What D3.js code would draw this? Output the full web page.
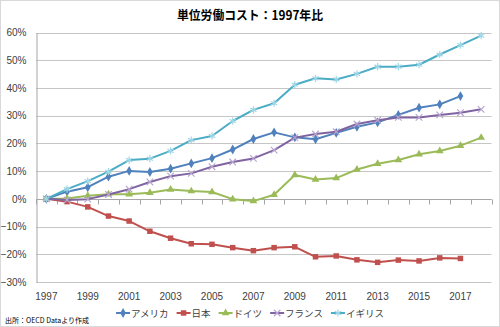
<!DOCTYPE html>
<html lang="ja">
<head>
<meta charset="utf-8">
<title>単位労働コスト</title>
<script src="https://cdnjs.cloudflare.com/ajax/libs/d3/7.8.5/d3.min.js"></script>
<style>
  body { margin: 0; background: #fff; }
  svg { display: block; }
</style>
</head>
<body>
<script>
// years on the category axis
var years = d3.range(1997, 2019);
var tickYears = d3.range(1997, 2018, 2);
var yTicks = [-0.3, -0.2, -0.1, 0, 0.1, 0.2, 0.3, 0.4, 0.5, 0.6];

// 1997 = 0 (%)
var usa = [0, 2.6, 4.2, 8.0, 10.1, 9.7, 10.9, 12.8, 14.7, 17.8, 21.6, 24.0, 22.2, 21.5, 23.8, 26.0, 27.6, 30.3, 32.9, 34.1, 37.1];
var japan = [0, -1.0, -2.9, -6.2, -8.0, -11.7, -14.2, -16.2, -16.4, -17.6, -18.7, -17.6, -17.3, -20.9, -20.6, -22.0, -22.9, -22.1, -22.4, -21.3, -21.5];
var germany = [0, 0.1, 1.1, 1.7, 1.7, 2.2, 3.4, 2.8, 2.5, -0.1, -0.8, 1.5, 8.6, 7.0, 7.5, 10.6, 12.7, 14.0, 16.1, 17.3, 19.2, 22.1];
var france = [0, -0.4, -0.1, 1.6, 3.5, 6.1, 8.2, 9.2, 11.6, 13.3, 14.6, 17.6, 22.1, 23.4, 24.2, 27.0, 28.4, 29.4, 29.4, 30.3, 31.1, 32.3];
var uk = [0, 3.5, 6.4, 9.8, 14.0, 14.5, 17.3, 21.2, 22.7, 28.1, 32.1, 34.5, 41.2, 43.5, 43.1, 45.1, 47.7, 47.7, 48.4, 52.1, 55.5, 58.9];

var series = [
  { name: "アメリカ", values: usa, color: "#4F81BD", mark: "#4F81BD", symbol: d3.symbolDiamond, size: 28, stroke: false },
  { name: "日本", values: japan, color: "#C0504D", mark: "#C0504D", symbol: d3.symbolSquare, size: 30, stroke: false },
  { name: "ドイツ", values: germany, color: "#9BBB59", mark: "#9BBB59", symbol: d3.symbolTriangle, size: 26, stroke: false },
  { name: "フランス", values: france, color: "#8064A2", mark: "#B7A6CF", symbol: d3.symbolX, size: 30, stroke: true },
  { name: "イギリス", values: uk, color: "#4BACC6", mark: "#9DD6E6", symbol: d3.symbolAsterisk, size: 36, stroke: true }
];

var width = 500, height = 327;
var numFont = "'Liberation Sans', Arial, sans-serif";
var jpFont = "'Noto Sans CJK JP', sans-serif";

var svg = d3.select("body").append("svg")
  .attr("width", width)
  .attr("height", height);

svg.append("rect")
  .attr("x", 0.5).attr("y", 0.5)
  .attr("width", width - 1).attr("height", height - 1)
  .attr("fill", "#fff")
  .attr("stroke", "#d9d9d9");

var x = d3.scaleBand().domain(years).range([36, 491.5]);
var y = d3.scaleLinear().domain([-0.3, 0.6]).range([282, 32.6]);

// title
svg.append("text")
  .attr("x", 250).attr("y", 20)
  .attr("text-anchor", "middle")
  .style("font-family", jpFont)
  .style("font-size", "12.5px")
  .style("font-weight", "bold")
  .attr("fill", "#000")
  .attr("textLength", 146)
  .attr("lengthAdjust", "spacingAndGlyphs")
  .text("単位労働コスト：1997年比");

// gridlines
svg.append("g")
  .selectAll("line")
  .data(yTicks)
  .join("line")
  .attr("x1", 36).attr("x2", 491.5)
  .attr("y1", function(d) { return Math.round(y(d)) + 0.5; })
  .attr("y2", function(d) { return Math.round(y(d)) + 0.5; })
  .attr("stroke", "#c6c6c6")
  .attr("stroke-width", 1);

// y axis
var yAxis = svg.append("g")
  .attr("transform", "translate(36.5,0)")
  .call(d3.axisLeft(y).tickValues(yTicks).tickSize(0).tickPadding(10).tickFormat(d3.format(".0%")));
yAxis.select(".domain").attr("stroke", "#a6a6a6");
yAxis.selectAll("text")
  .style("font-family", numFont)
  .style("font-size", "10px")
  .attr("fill", "#404040");

// x axis crosses at 0%
var zeroY = Math.round(y(0)) + 0.5;
var xAxis = svg.append("g")
  .attr("transform", "translate(0," + zeroY + ")");
xAxis.append("line")
  .attr("x1", 36).attr("x2", 491.5)
  .attr("stroke", "#a6a6a6");
xAxis.selectAll("line.tick")
  .data(years.concat([2019]))
  .join("line")
  .attr("class", "tick")
  .attr("x1", function(d) { return Math.round(x(d) !== undefined ? x(d) : x.range()[1]) + 0.5; })
  .attr("x2", function(d) { return Math.round(x(d) !== undefined ? x(d) : x.range()[1]) + 0.5; })
  .attr("y1", 0).attr("y2", 5)
  .attr("stroke", "#a6a6a6");

// year labels along the bottom
svg.append("g")
  .selectAll("text")
  .data(tickYears)
  .join("text")
  .attr("x", function(d) { return x(d) + x.bandwidth() / 2; })
  .attr("y", 300)
  .attr("text-anchor", "middle")
  .style("font-family", numFont)
  .style("font-size", "10px")
  .attr("fill", "#404040")
  .text(function(d) { return d; });

var line = d3.line()
  .x(function(d, i) { return x(years[i]) + x.bandwidth() / 2; })
  .y(function(d) { return y(d / 100); });

function drawMarker(sel, s) {
  var path = d3.symbol().type(s.symbol).size(s.size)();
  sel.attr("d", path);
  if (s.stroke) {
    sel.attr("fill", "none").attr("stroke", s.mark).attr("stroke-width", 1.2);
  } else {
    sel.attr("fill", s.mark).attr("stroke", "none");
  }
}

var plot = svg.append("g");
series.forEach(function(s) {
  plot.append("path")
    .datum(s.values)
    .attr("d", line)
    .attr("fill", "none")
    .attr("stroke", s.color)
    .attr("stroke-width", 2)
    .attr("stroke-linejoin", "round");
  plot.selectAll(null)
    .data(s.values)
    .join("path")
    .attr("transform", function(d, i) {
      return "translate(" + (x(years[i]) + x.bandwidth() / 2) + "," + y(d / 100) + ")";
    })
    .call(drawMarker, s);
});

// legend: lay items out one after another, then center the row
var legend = svg.append("g");
var cursor = 0;
series.forEach(function(s) {
  var g = legend.append("g").attr("transform", "translate(" + cursor + ",0)");
  g.append("line")
    .attr("x1", 0).attr("x2", 14)
    .attr("stroke", s.color)
    .attr("stroke-width", 2);
  g.append("path")
    .attr("transform", "translate(7,0)")
    .call(drawMarker, s);
  var t = g.append("text")
    .attr("x", 15).attr("y", 3.5)
    .style("font-family", jpFont)
    .style("font-size", "9.5px")
    .attr("fill", "#404040")
    .text(s.name);
  cursor += 15 + t.node().getComputedTextLength() + 8;
});
cursor -= 8;
legend.attr("transform", "translate(" + (250 - cursor / 2) + ",313)");

// source note
svg.append("text")
  .attr("x", 5).attr("y", 323)
  .style("font-family", jpFont)
  .style("font-size", "7px")
  .attr("fill", "#000")
  .text("出所：OECD Dataより作成");
</script>
</body>
</html>
